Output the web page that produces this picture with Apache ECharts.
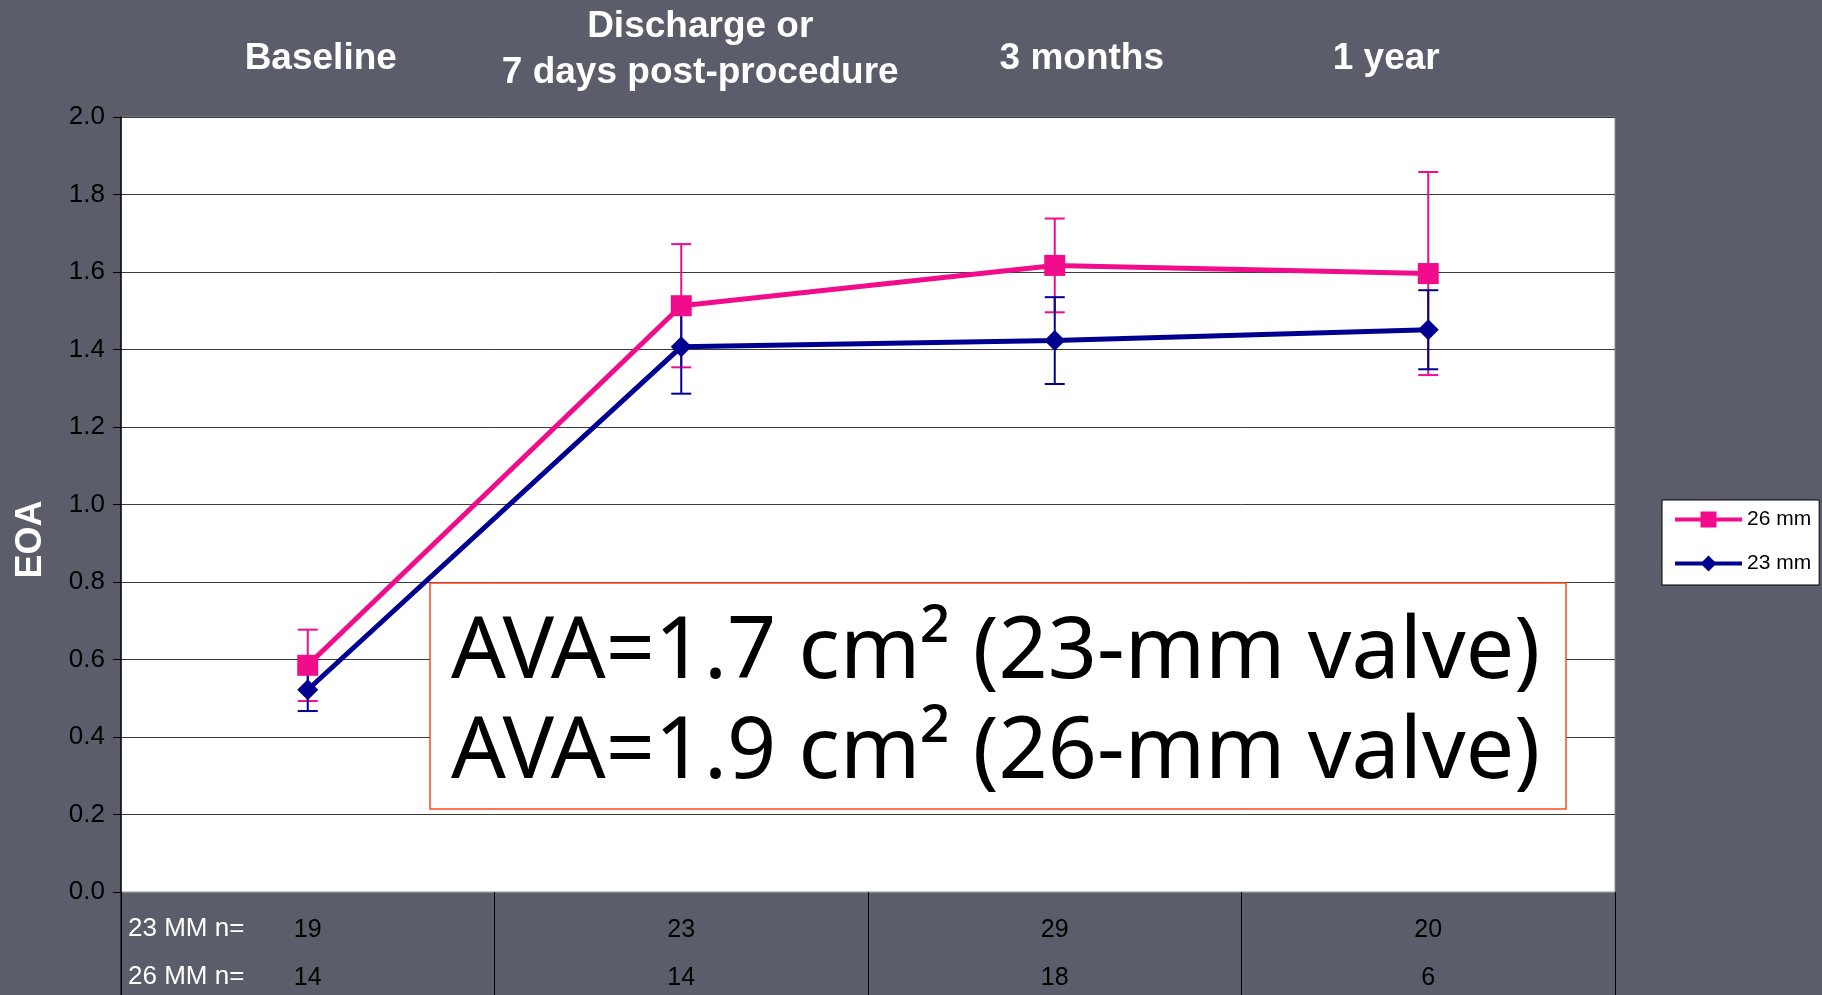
<!DOCTYPE html>
<html>
<head>
<meta charset="utf-8">
<script src="https://cdn.jsdelivr.net/npm/echarts@6/dist/echarts.min.js"></script>
<style>
html,body{margin:0;padding:0;background:#5b5d6b;}
#chart{width:1822px;height:995px;}
</style>
</head>
<body>
<div id="chart"></div>
<script>
// ---- data ----
const categories = ['Baseline', 'Discharge or\n7 days post-procedure', '3 months', '1 year'];
const mm26 = [0.585, 1.513, 1.617, 1.596];
const mm26Err = [0.092, 0.159, 0.121, 0.262];
const mm23 = [0.522, 1.407, 1.423, 1.451];
const mm23Err = [0.055, 0.121, 0.112, 0.102];
const n23 = [19, 23, 29, 20];
const n26 = [14, 14, 18, 6];
const yTicks = [0, 0.2, 0.4, 0.6, 0.8, 1.0, 1.2, 1.4, 1.6, 1.8, 2.0];
const seriesNames = ['26 mm', '23 mm'];
const rowLabels = ['23 MM n=', '26 MM n='];
const noteLines = ['AVA=1.7 cm\u00B2 (23-mm valve)', 'AVA=1.9 cm\u00B2 (26-mm valve)'];

// label styling (horizontal paddings shift the slide headings off the category centres)
const headingPads = [[0, 0, 14, 26], [0, 0, 0, 38], [0, 0, 14, 54], [0, 84, 14, 0]];

const PINK = '#f00c8a';
const BLUE = '#000090';
const FONT = 'Liberation Sans, Arial, sans-serif';

const errData = (vals, errs) => vals.map((v, i) => [i, v - errs[i], v + errs[i]]);

function errRender(color) {
  return function (params, api) {
    const x = api.value(0);
    const lo = api.coord([x, api.value(1)]);
    const hi = api.coord([x, api.value(2)]);
    const w = 10;
    const st = { stroke: color, lineWidth: 2 };
    return {
      type: 'group',
      children: [
        { type: 'line', shape: { x1: lo[0], y1: lo[1], x2: hi[0], y2: hi[1] }, style: st },
        { type: 'line', shape: { x1: lo[0] - w, y1: lo[1], x2: lo[0] + w, y2: lo[1] }, style: st },
        { type: 'line', shape: { x1: hi[0] - w, y1: hi[1], x2: hi[0] + w, y2: hi[1] }, style: st }
      ]
    };
  };
}

const chart = echarts.init(document.getElementById('chart'), null, { renderer: 'canvas' });

const topLabelData = categories.map((c, i) => ({ value: c, textStyle: { padding: headingPads[i] } }));

const option = {
  backgroundColor: '#5b5d6b',
  animation: false,
  grid: {
    left: 121, right: 207, top: 117, bottom: 103,
    outerBoundsMode: 'none', containLabel: false,
    show: true, backgroundColor: '#ffffff', borderColor: '#8a8a8a', borderWidth: 1
  },
  legend: {
    data: seriesNames,
    orient: 'vertical',
    left: 1662, top: 500,
    backgroundColor: '#ffffff',
    borderColor: '#000000', borderWidth: 1,
    padding: [9, 8, 11, 11],
    itemWidth: 67, itemHeight: 20, itemGap: 23,
    lineStyle: { width: 4 },
    textStyle: { fontFamily: FONT, fontSize: 21, color: '#000' }
  },
  xAxis: [
    {
      type: 'category', position: 'top', data: topLabelData, boundaryGap: true,
      axisLine: { show: false }, axisTick: { show: false },
      axisLabel: {
        interval: 0, margin: 21, verticalAlign: 'bottom', lineHeight: 46,
        color: '#ffffff', fontWeight: 'bold', fontSize: 37, fontFamily: FONT
      }
    },
    {
      type: 'category', position: 'bottom', boundaryGap: true,
      data: n23.map((v, i) => v + '\n' + n26[i]),
      axisLine: { show: true, lineStyle: { color: '#8a8a8a', width: 1 } },
      axisTick: { show: true, length: 104, lineStyle: { color: '#000', width: 1 } },
      axisLabel: {
        interval: 0, margin: 14, lineHeight: 48,
        color: '#000000', fontSize: 25, fontFamily: FONT
      }
    }
  ],
  yAxis: {
    type: 'value', min: 0, max: 2, interval: 0.2,
    name: 'EOA', nameLocation: 'middle', nameRotate: 90, nameGap: 72,
    nameTextStyle: { color: '#ffffff', fontWeight: 'bold', fontSize: 36, fontFamily: FONT, padding: [0, 70, 0, 0] },
    axisLine: { show: true, lineStyle: { color: '#000', width: 1.5 } },
    axisTick: { show: true, length: 8, lineStyle: { color: '#000' } },
    axisLabel: {
      margin: 16, color: '#000', fontSize: 26, fontFamily: FONT,
      formatter: v => { const t = yTicks.find(k => Math.abs(k - v) < 1e-6); return (t !== undefined ? t : v).toFixed(1); }
    },
    splitLine: { show: true, lineStyle: { color: '#3a3a3a', width: 1 } }
  },
  series: [
    {
      type: 'custom', name: 'err26', xAxisIndex: 0, z: 2,
      renderItem: errRender(PINK), encode: { x: 0, y: [1, 2] },
      data: errData(mm26, mm26Err)
    },
    {
      type: 'custom', name: 'err23', xAxisIndex: 0, z: 2,
      renderItem: errRender(BLUE), encode: { x: 0, y: [1, 2] },
      data: errData(mm23, mm23Err)
    },
    {
      type: 'line', name: seriesNames[0], xAxisIndex: 0, z: 3,
      data: mm26, symbol: 'rect', symbolSize: 21,
      lineStyle: { color: PINK, width: 5 }, itemStyle: { color: PINK }
    },
    {
      type: 'line', name: seriesNames[1], xAxisIndex: 0, z: 4,
      data: mm23, symbol: 'diamond', symbolSize: [21, 21],
      lineStyle: { color: BLUE, width: 5 }, itemStyle: { color: BLUE }
    }
  ],
  graphic: [
    {
      type: 'line', shape: { x1: 121, y1: 892, x2: 121, y2: 995 },
      style: { stroke: '#000', lineWidth: 1 }, silent: true
    },
    {
      type: 'text', left: 128, top: 916,
      style: { text: rowLabels[0], fill: '#ffffff', fontSize: 26, fontFamily: FONT }
    },
    {
      type: 'text', left: 128, top: 964,
      style: { text: rowLabels[1], fill: '#ffffff', fontSize: 26, fontFamily: FONT }
    },
    {
      type: 'rect', shape: { x: 430, y: 583, width: 1136, height: 226 },
      style: { fill: '#ffffff', stroke: '#ff4a1c', lineWidth: 1.5 }, z: 100
    },
    {
      type: 'text', x: 451, y: 653, z: 101,
      style: { text: noteLines[0], fill: '#000', fontSize: 86, fontFamily: 'Noto Sans, Open Sans, sans-serif', verticalAlign: 'middle' }
    },
    {
      type: 'text', x: 451, y: 753, z: 101,
      style: { text: noteLines[1], fill: '#000', fontSize: 86, fontFamily: 'Noto Sans, Open Sans, sans-serif', verticalAlign: 'middle' }
    }
  ]
};
chart.setOption(option);
</script>
</body>
</html>
